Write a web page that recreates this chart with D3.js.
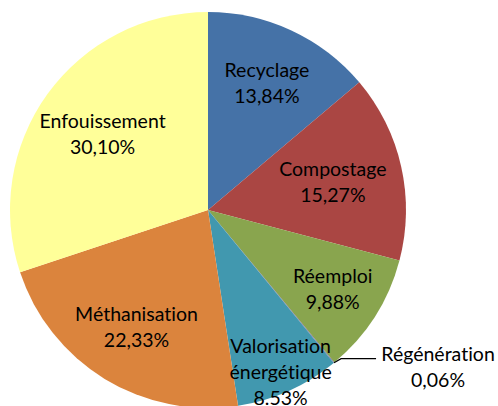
<!DOCTYPE html>
<html>
<head>
<meta charset="utf-8">
<script src="https://cdn.jsdelivr.net/npm/d3@7"></script>
<style>
  body { margin: 0; background: #fff; }
  svg { display: block; }
  text { font-variant-ligatures: none; font-feature-settings: "liga" 0, "dlig" 0; }
</style>
</head>
<body>
<svg></svg>
<script>
// slices, clockwise from 12 o'clock
let categories = ["Recyclage", "Compostage", "Réemploi", "Régénération", "Valorisation énergétique", "Méthanisation", "Enfouissement"];
let values = [13.84, 15.27, 9.88, 0.06, 8.53, 22.33, 30.10];
let valueLabels = ["13,84%", "15,27%", "9,88%", "0,06%", "8.53%", "22,33%", "30,10%"];
let colors = ["#4572a7", "#aa4643", "#89a54e", "#80699b", "#4198af", "#db843d", "#ffff99"];

let width = 498;
let height = 406;
let cx = 208;
let cy = 210;
let radius = 198;

// distance from centre for the inside labels (Excel "best fit" look)
let labelRadius = [140, 128, 148, 0, 178, 137, 130];

let svg = d3.select("svg").attr("width", width).attr("height", height);
let g = svg.append("g").attr("transform", "translate(" + cx + "," + cy + ")");

let pie = d3.pie().sort(null).value((d) => d);
let arcs = pie(values);

let arc = d3.arc().innerRadius(0).outerRadius(radius);

g.selectAll("path")
  .data(arcs)
  .enter()
  .append("path")
  .attr("d", arc)
  .attr("fill", (d, i) => colors[i]);

let font = "Lato, 'Open Sans', sans-serif";
let lineH = 26;

arcs.forEach((d, i) => {
  let lines = categories[i] == "Valorisation énergétique"
    ? ["Valorisation", "énergétique", valueLabels[i]]
    : [categories[i], valueLabels[i]];
  let pos;
  if (values[i] < 1) {
    // tiny slice: outside label with a leader line
    let edge = d3.arc().innerRadius(radius).outerRadius(radius).centroid(d);
    let elbow = [edge[0] + 7, edge[1] - 4];
    let end = [elbow[0] + 35, elbow[1]];
    g.append("polyline")
      .attr("points", [edge, elbow, end].map((p) => p.join(",")).join(" "))
      .attr("fill", "none")
      .attr("stroke", "#000")
      .attr("stroke-width", 1.2);
    pos = [end[0] + 62, end[1] + 8];
  } else {
    let r = labelRadius[i];
    pos = d3.arc().innerRadius(r).outerRadius(r).centroid(d);
  }
  let text = g.append("text")
    .attr("text-anchor", "middle")
    .attr("font-family", font)
    .attr("font-size", 19.5)
    .attr("fill", "#000");
  let top = pos[1] - (lines.length - 1) * lineH / 2;
  lines.forEach((l, k) => {
    text.append("tspan")
      .attr("x", pos[0])
      .attr("y", top + k * lineH)
      .attr("dy", "0.35em")
      .text(l);
  });
});
</script>
</body>
</html>
